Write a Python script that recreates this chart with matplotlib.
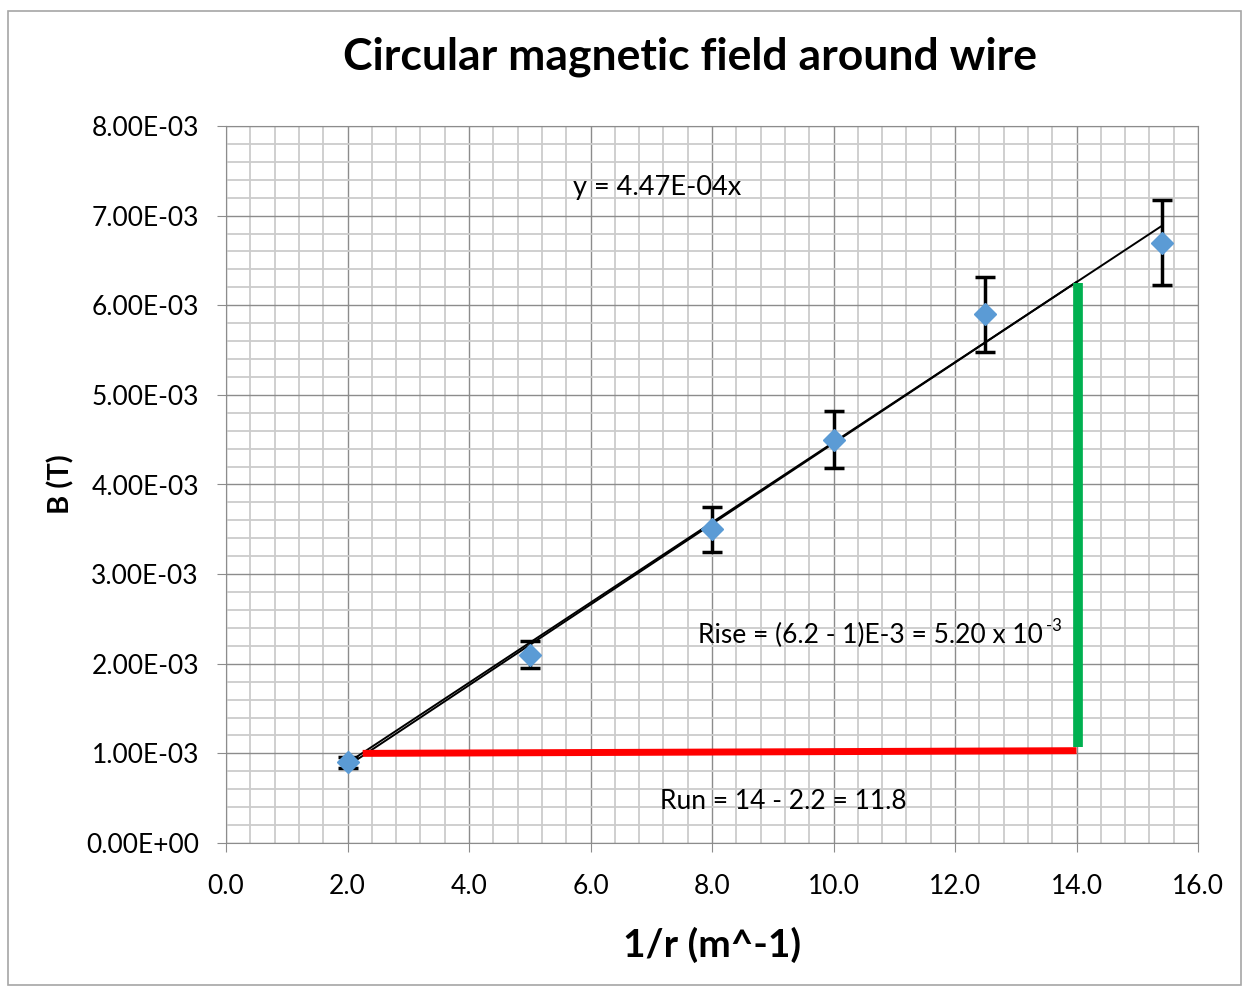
import matplotlib.pyplot as plt
from matplotlib.patches import Rectangle
from matplotlib.ticker import MultipleLocator, FuncFormatter

plt.rcParams['font.family'] = ['Lato', 'DejaVu Sans']

# measured data
inv_r = [2.0, 5.0, 8.0, 10.0, 12.5, 15.4]
b_field = [0.9e-3, 2.1e-3, 3.5e-3, 4.5e-3, 5.9e-3, 6.7e-3]
b_err = [0.06e-3, 0.15e-3, 0.25e-3, 0.32e-3, 0.42e-3, 0.47e-3]

# trendline y = 4.47E-04x
slope = 4.47e-4
trend_x = [2.0, 15.4]

# hand drawn line of best fit and rise / run
hand_x = [2.0, 14.0]
hand_y = [0.86e-3, 6.26e-3]
run_x = [2.25, 14.0]
run_y = [1.0e-3, 1.03e-3]
rise_x = [14.02, 14.02]
rise_y = [1.07e-3, 6.25e-3]

fig = plt.figure(figsize=(12.45, 9.88), dpi=100)
fig.patches.append(Rectangle((8 / 1245, 1 - 985 / 988), 1233 / 1245, 974 / 988,
                             transform=fig.transFigure, fill=False,
                             edgecolor='#a6a6a6', linewidth=1.2))
ax = fig.add_axes([226 / 1245, 1 - 843 / 988, 972 / 1245, 717 / 988])

ax.set_xlim(0, 16)
ax.set_ylim(0, 8e-3)
ax.xaxis.set_major_locator(MultipleLocator(2))
ax.xaxis.set_minor_locator(MultipleLocator(0.4))
ax.yaxis.set_major_locator(MultipleLocator(1e-3))
ax.yaxis.set_minor_locator(MultipleLocator(0.2e-3))
ax.xaxis.set_major_formatter(FuncFormatter(lambda v, p: '%.1f' % v))
ax.yaxis.set_major_formatter(FuncFormatter(lambda v, p: '%.2E' % v))
ax.grid(which='minor', color='#cccccc', linewidth=1.3)
ax.grid(which='major', color='#8c8c8c', linewidth=1.0)
ax.set_axisbelow(True)
ax.tick_params(which='major', length=6.5, color='#8c8c8c', labelsize=19)
ax.tick_params(axis='x', pad=16)
ax.tick_params(axis='y', pad=13)
ax.tick_params(which='minor', length=0)
for s in ax.spines.values():
    s.set_color('#8c8c8c')

ax.plot(trend_x, [slope * x for x in trend_x], color='black', linewidth=1.4, zorder=3)
ax.plot(hand_x, hand_y, color='black', linewidth=1.4, zorder=3)
ax.plot(run_x, run_y, color='#ff0000', linewidth=5, solid_capstyle='butt', zorder=4)
ax.plot(rise_x, rise_y, color='#00b050', linewidth=7, solid_capstyle='butt', zorder=4)

ax.errorbar(inv_r, b_field, yerr=b_err, fmt='none', ecolor='black', elinewidth=2.5,
            capsize=7, capthick=2.5, zorder=5)
ax.plot(inv_r, b_field, linestyle='none', marker='D', markersize=11,
        color='#5b9bd5', zorder=6)

ax.text(7.1, 7.31e-3, 'y = 4.47E-04x', fontsize=19.5, ha='center', va='center')
ax.text(7.77, 2.31e-3, 'Rise = (6.2 - 1)E-3 = 5.20 x 10', fontsize=19,
        ha='left', va='center')
ax.text(13.5, 2.42e-3, '-3', fontsize=12, ha='left', va='center')
ax.text(7.14, 0.46e-3, 'Run = 14 - 2.2 = 11.8', fontsize=19, ha='left', va='center')

fig.text(690 / 1245, 1 - 57 / 988, 'Circular magnetic field around wire',
         fontsize=32, fontweight='bold', ha='center', va='center')
ax.set_xlabel('1/r (m^-1)', fontsize=28, fontweight='bold', labelpad=20)
ax.set_ylabel('B (T)', fontsize=21, fontweight='bold', labelpad=8)

fig.savefig('out.png', dpi=100)
